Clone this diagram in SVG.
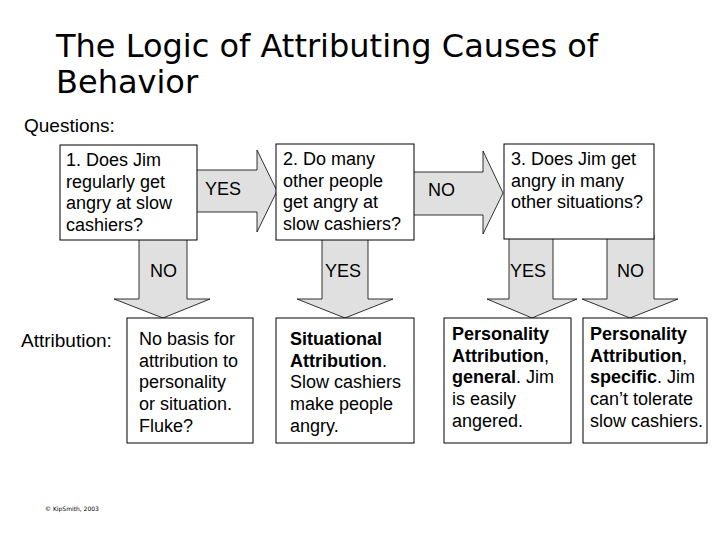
<svg xmlns="http://www.w3.org/2000/svg" width="720" height="540" viewBox="0 0 720 540">
<style>
.title{font-family:"DejaVu Sans",Verdana,sans-serif;font-size:32px;fill:#000}
.t{font-family:"Liberation Sans",Arial,sans-serif;font-size:18px;fill:#000}
.lbl{font-family:"Liberation Sans",Arial,sans-serif;font-size:19px;fill:#000}
.b{font-weight:bold}
.box{fill:#fff;stroke:#000;stroke-width:1}
.arrow{fill:#e0e0e0;stroke:#000;stroke-width:0.8;stroke-linejoin:miter}
.foot{font-family:"DejaVu Sans",sans-serif;font-size:6px;fill:#000}
</style>
<rect width="720" height="540" fill="#fff"/>
<text class="title" x="56" y="57">The Logic of Attributing Causes of</text>
<text class="title" x="56" y="93">Behavior</text>
<text class="lbl" x="24" y="132">Questions:</text>
<text class="lbl" x="21" y="347">Attribution:</text>
<g id="connectors">
  <polygon class="arrow" points="190,170 257,170 257,150 277,191 257,232 257,212 190,212"/>
  <text class="t" x="205" y="195">YES</text>
  <polygon class="arrow" points="410,172 483,172 483,151 503,193 483,234 483,215 410,215"/>
  <text class="t" x="428" y="196">NO</text>
  <polygon class="arrow" points="139,236 187,236 187,299 210,299 163,318 114,299 139,299"/>
  <text class="t" x="150" y="277">NO</text>
  <polygon class="arrow" points="322,236 368,236 368,299 393,299 345,318 297,299 322,299"/>
  <text class="t" x="325" y="277">YES</text>
  <polygon class="arrow" points="509,235 553,235 553,299 577,299 532,318 487,299 509,299"/>
  <text class="t" x="510" y="277">YES</text>
  <polygon class="arrow" points="607,235 654,235 654,299 678,299 630,318 582,299 607,299"/>
  <text class="t" x="617" y="277">NO</text>
</g>
<g id="q1">
  <rect class="box" x="60" y="145" width="137" height="95"/>
  <text class="t" x="66" y="166">1. Does Jim</text>
  <text class="t" x="66" y="188">regularly get</text>
  <text class="t" x="66" y="209">angry at slow</text>
  <text class="t" x="66" y="231">cashiers?</text>
</g>
<g id="q2">
  <rect class="box" x="276" y="144" width="138" height="96"/>
  <text class="t" x="283" y="165">2. Do many</text>
  <text class="t" x="283" y="187">other people</text>
  <text class="t" x="283" y="208">get angry at</text>
  <text class="t" x="283" y="230">slow cashiers?</text>
</g>
<g id="q3">
  <rect class="box" x="504" y="144" width="150" height="95"/>
  <text class="t" x="511" y="165">3. Does Jim get</text>
  <text class="t" x="511" y="187">angry in many</text>
  <text class="t" x="511" y="208">other situations?</text>
</g>
<g id="a1">
  <rect class="box" x="127" y="318" width="126" height="125"/>
  <text class="t" x="139" y="345">No basis for</text>
  <text class="t" x="139" y="367">attribution to</text>
  <text class="t" x="139" y="388">personality</text>
  <text class="t" x="139" y="410">or situation.</text>
  <text class="t" x="139" y="432">Fluke?</text>
</g>
<g id="a2">
  <rect class="box" x="276" y="318" width="138" height="125"/>
  <text class="t b" x="290" y="345">Situational</text>
  <text class="t" x="290" y="367"><tspan class="b">Attribution</tspan>.</text>
  <text class="t" x="290" y="388">Slow cashiers</text>
  <text class="t" x="290" y="410">make people</text>
  <text class="t" x="290" y="432">angry.</text>
</g>
<g id="a3">
  <rect class="box" x="444" y="318" width="127" height="125"/>
  <text class="t b" x="452" y="340">Personality</text>
  <text class="t" x="452" y="362"><tspan class="b">Attribution</tspan>,</text>
  <text class="t" x="452" y="383"><tspan class="b">general</tspan>. Jim</text>
  <text class="t" x="452" y="405">is easily</text>
  <text class="t" x="452" y="427">angered.</text>
</g>
<g id="a4">
  <rect class="box" x="583" y="318" width="124" height="125"/>
  <text class="t b" x="590" y="340">Personality</text>
  <text class="t" x="590" y="362"><tspan class="b">Attribution</tspan>,</text>
  <text class="t" x="590" y="383"><tspan class="b">specific</tspan>. Jim</text>
  <text class="t" x="590" y="405">can’t tolerate</text>
  <text class="t" x="590" y="427">slow cashiers.</text>
</g>
<text class="foot" x="45" y="511">© KipSmith, 2003</text>
</svg>
